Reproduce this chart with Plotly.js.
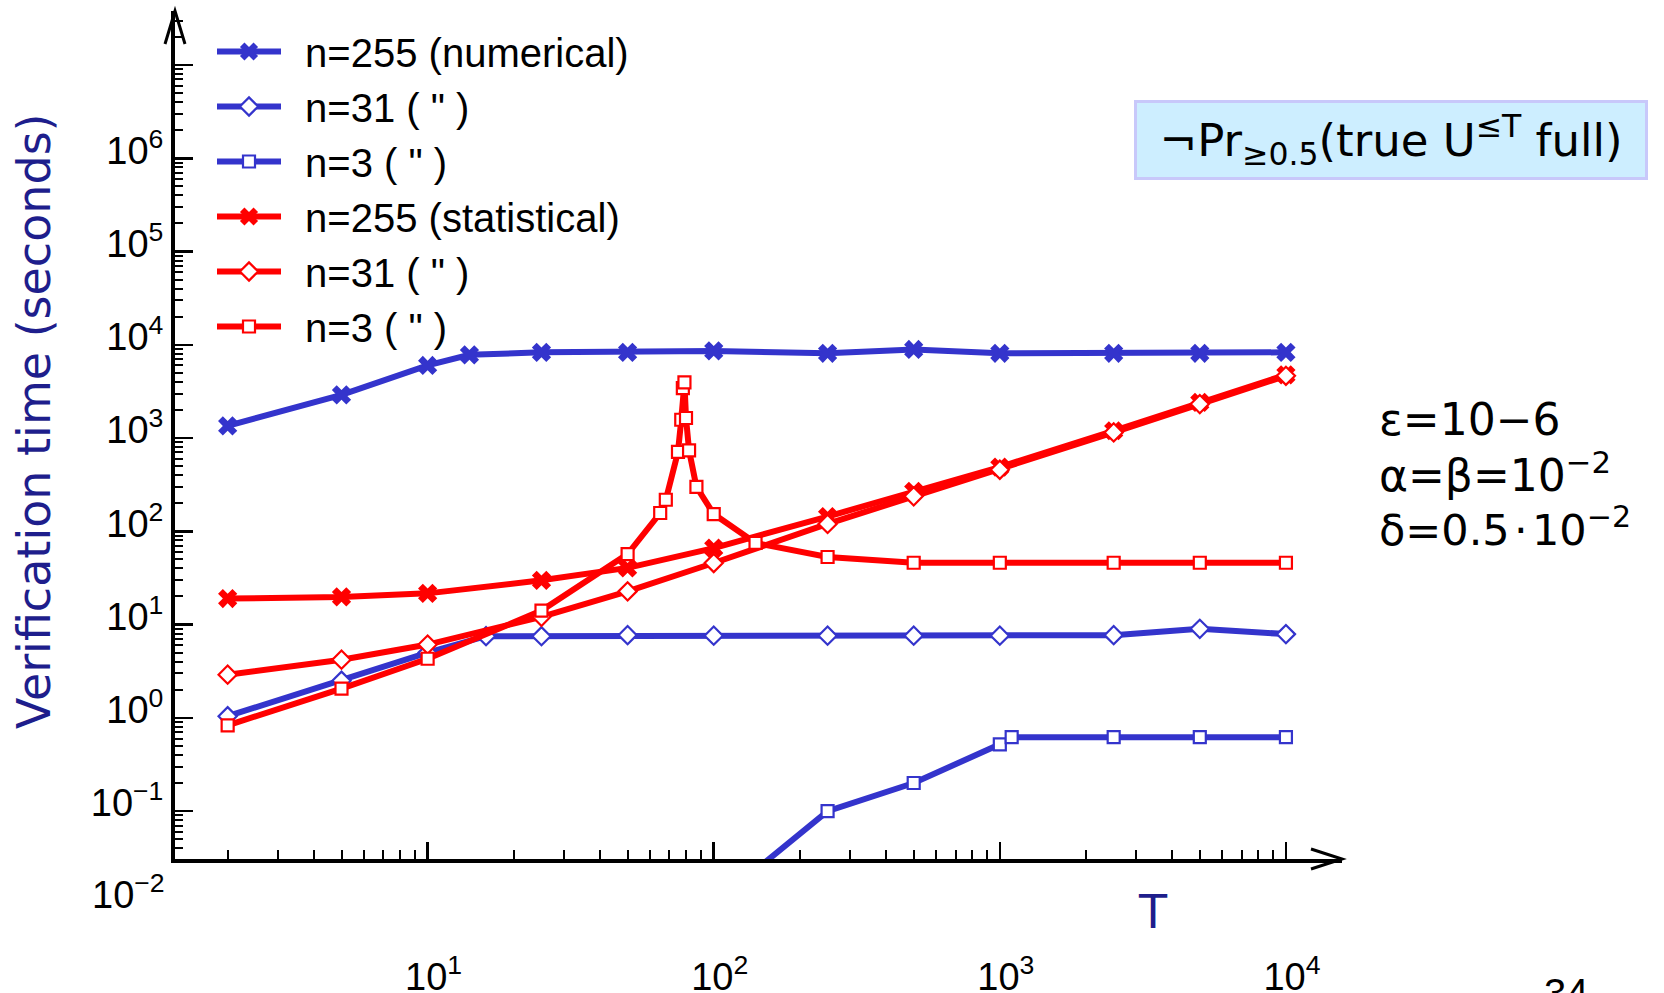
<!DOCTYPE html>
<html>
<head>
<meta charset="utf-8">
<script src="https://cdn.plot.ly/plotly-3.0.1.min.js"></script>
<style>html,body{margin:0;padding:0;background:#fff;}#chart{width:1664px;height:993px;}</style>
</head>
<body>
<div id="chart"></div>
<script>
// ---- data ----
var T_num255 = [2, 5, 10, 14, 25, 50, 100, 250, 500, 1000, 2500, 5000, 10000];
var t_num255 = [1350, 2900, 6000, 7800, 8300, 8300, 8600, 8100, 8900, 8100, 8100, 8100, 8300];

var T_num31 = [2, 5, 10, 16, 25, 50, 100, 250, 500, 1000, 2500, 5000, 10000];
var t_num31 = [1.04, 2.5, 5.0, 7.5, 7.5, 7.7, 7.6, 7.6, 7.6, 7.6, 7.7, 9.0, 7.9];

var T_num3 = [100, 250, 500, 1000, 1100, 2500, 5000, 10000];
var t_num3 = [0.01, 0.1, 0.2, 0.52, 0.62, 0.62, 0.62, 0.62];

var T_st255 = [2, 5, 10, 25, 50, 100, 250, 500, 1000, 2500, 5000, 10000];
var t_st255 = [19, 19.8, 21.6, 29.8, 40.5, 66, 144, 268, 489, 1197, 2410, 4760];

var T_st31 = [2, 5, 10, 25, 50, 100, 250, 500, 1000, 2500, 5000, 10000];
var t_st31 = [2.9, 4.2, 6.1, 12.1, 22.7, 45.7, 120, 237, 457, 1148, 2313, 4650];

var T_st3 = [2, 5, 10, 25, 50, 65, 68, 75, 77, 78, 79, 80, 82, 87, 100, 140, 250, 500, 1000, 2500, 5000, 10000];
var t_st3 = [0.83, 2.06, 4.3, 14.1, 57, 157, 218, 710, 1570, 3430, 3950, 1640, 736, 300, 153, 75, 53, 46, 46, 46, 46, 46];

var names = ["n=255 (numerical)", "n=31 ( \" )", "n=3 ( \" )", "n=255 (statistical)", "n=31 ( \" )", "n=3 ( \" )"];

var yTickVals = [0.1, 1, 10, 100, 1000, 10000, 100000, 1000000, 10000000];
var yTickText = ["10<sup>\u22121</sup>", "10<sup>0</sup>", "10<sup>1</sup>", "10<sup>2</sup>", "10<sup>3</sup>", "10<sup>4</sup>", "10<sup>5</sup>", "10<sup>6</sup>", ""];
var xTickVals = [10, 100, 1000, 10000];
var xTickText = ["10<sup>1</sup>", "10<sup>2</sup>", "10<sup>3</sup>", "10<sup>4</sup>"];

// ---- styles ----
var BLUE = "#3434cc", RED = "#ff0000", NAVY = "#1e1e8c";
var LW = 6;
function tr(x, y, name, color, symbol, size) {
  var open = symbol !== "x";
  return {
    x: x, y: y, name: "\u00a0\u2009" + name, type: "scatter", mode: "lines+markers",
    line: {color: color, width: LW},
    marker: {symbol: symbol, size: size, color: open ? "#ffffff" : color,
             line: {color: color, width: open ? 2.2 : 0}},
    cliponaxis: true
  };
}
var data = [
  tr(T_num255, t_num255, names[0], BLUE, "x", 17),
  tr(T_num31, t_num31, names[1], BLUE, "diamond", 14),
  tr(T_num3, t_num3, names[2], BLUE, "square", 12),
  tr(T_st255, t_st255, names[3], RED, "x", 17),
  tr(T_st31, t_st31, names[4], RED, "diamond", 14),
  tr(T_st3, t_st3, names[5], RED, "square", 12)
];

// plot area in pixels: x 175..1342, y 11..859
var L = 175, R = 1342, TOP = 11, BOT = 859;
var W = R - L, H = BOT - TOP;
function px(x) { return (x - L) / W; }
function py(y) { return (BOT - y) / H; }

var tickFont = {family: "Liberation Sans, Arial, sans-serif", size: 38, color: "#000"};
var layout = {
  width: 1664, height: 993,
  margin: {l: L, r: 1664 - R, t: TOP, b: 993 - BOT, pad: 0},
  paper_bgcolor: "#fff", plot_bgcolor: "#fff",
  showlegend: true,
  legend: {x: px(212), y: py(19), xanchor: "left", yanchor: "top",
           font: {family: "Liberation Sans, Arial, sans-serif", size: 40, color: "#000"},
           itemwidth: 64, bgcolor: "rgba(0,0,0,0)", borderwidth: 0, tracegroupgap: 0},
  xaxis: {type: "log", range: [0.117, 4.196], showline: true, linecolor: "#000", linewidth: 4,
          showgrid: false, zeroline: false, ticks: "inside", ticklen: 17, tickwidth: 2.5, tickcolor: "#000",
          tickmode: "array", tickvals: xTickVals, ticktext: xTickText, tickfont: tickFont,
          ticklabelstandoff: 81, ticklabelshift: 6,
          minor: {ticks: "inside", ticklen: 9, tickwidth: 2, tickcolor: "#000", dtick: "D1", showgrid: false}},
  yaxis: {type: "log", range: [-1.514, 7.579], showline: true, linecolor: "#000", linewidth: 4,
          showgrid: false, zeroline: false, ticks: "inside", ticklen: 18, tickwidth: 2.5, tickcolor: "#000",
          tickmode: "array", tickvals: yTickVals, ticktext: yTickText, tickfont: tickFont,
          ticklabelshift: -8,
          minor: {ticks: "inside", ticklen: 8, tickwidth: 2, tickcolor: "#000", dtick: "D1", showgrid: false}},
  shapes: [
    {type: "path", xref: "paper", yref: "paper",
     path: "M" + px(165) + "," + py(44) + " L0,1 L" + px(185) + "," + py(44),
     line: {color: "#000", width: 3}},
    {type: "path", xref: "paper", yref: "paper",
     path: "M" + px(1311) + "," + py(849) + " L1,0 L" + px(1311) + "," + py(869),
     line: {color: "#000", width: 3}}
  ],
  annotations: [
    {xref: "paper", yref: "paper", x: px(34), y: py(421), xanchor: "center", yanchor: "middle",
     text: "Verification time (seconds)", textangle: -90, showarrow: false,
     font: {family: "DejaVu Sans, sans-serif", size: 46, color: NAVY}},
    {xref: "paper", yref: "paper", x: px(1153), y: py(912), xanchor: "center", yanchor: "middle",
     text: "T", showarrow: false, font: {family: "DejaVu Sans, sans-serif", size: 46, color: NAVY}},
    {xref: "paper", yref: "paper", x: px(167), y: py(892), xanchor: "right", yanchor: "middle",
     text: "10<sup>\u22122</sup>", showarrow: false, font: tickFont},
    {xref: "paper", yref: "paper", x: px(1390.5), y: py(140), xanchor: "center", yanchor: "middle",
     text: "\u00acPr<sub>\u22650.5</sub>(true U<sup>\u2264T</sup> full)", showarrow: false,
     width: 508, height: 74, borderpad: 0, borderwidth: 3, bordercolor: "#c8c8fa", bgcolor: "#cdeeff",
     font: {family: "DejaVu Sans, sans-serif", size: 45, color: "#000"}},
    {xref: "paper", yref: "paper", x: px(1377), y: py(419), xanchor: "left", yanchor: "middle",
     text: "\u03b5=10\u22126", showarrow: false, font: {family: "DejaVu Sans, sans-serif", size: 44, color: "#000"}},
    {xref: "paper", yref: "paper", x: px(1377), y: py(472), xanchor: "left", yanchor: "middle",
     text: "\u03b1=\u03b2=10<sup>\u22122</sup>", showarrow: false, font: {family: "DejaVu Sans, sans-serif", size: 44, color: "#000"}},
    {xref: "paper", yref: "paper", x: px(1377), y: py(527), xanchor: "left", yanchor: "middle",
     text: "\u03b4=0.5\u200a\u00b7\u200a10<sup>\u22122</sup>", showarrow: false, font: {family: "DejaVu Sans, sans-serif", size: 43, color: "#000"}},
    {xref: "paper", yref: "paper", x: px(1566), y: py(969), xanchor: "center", yanchor: "top",
     text: "34", showarrow: false, font: {family: "Liberation Sans, Arial, sans-serif", size: 40, color: "#000"}}
  ]
};
Plotly.newPlot("chart", data, layout, {displayModeBar: false, staticPlot: true});
</script>
</body>
</html>
